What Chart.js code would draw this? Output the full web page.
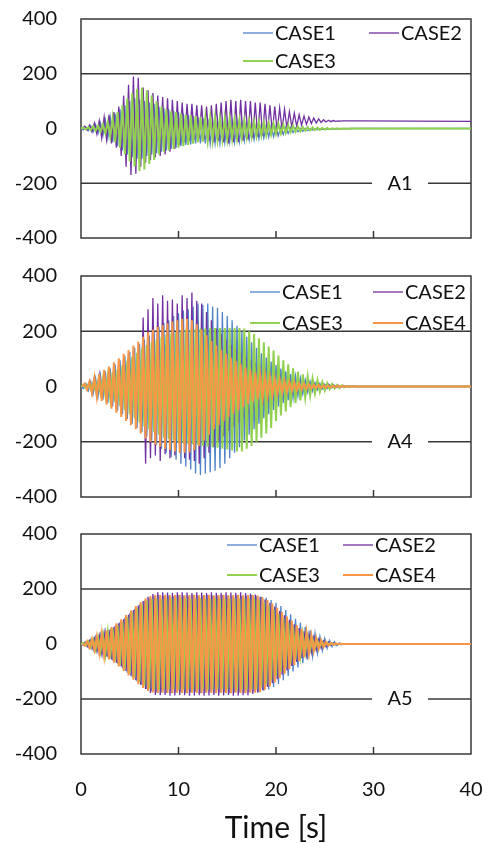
<!DOCTYPE html>
<html lang="en">

<head>
    <meta charset="UTF-8">
    <title>Response time histories A1 / A4 / A5</title>
    <style>
        body { margin: 0; background: #fff; }
        .panel { position: absolute; left: 0; width: 489px; }
    </style>
</head>

<body>
    <div class="panel" style="top:0;height:250px"><canvas id="chartA1"></canvas></div>
    <div class="panel" style="top:257px;height:252px"><canvas id="chartA4"></canvas></div>
    <div class="panel" style="top:515px;height:328px"><canvas id="chartA5"></canvas></div>

    <script src="https://cdn.jsdelivr.net/npm/chart.js@4.4.2/dist/chart.umd.min.js"></script>

    <script>
        // time grids [s], CASE2 / CASE4 are read half a step later
        const timeA = [
            0, 0.25, 0.5, 0.75, 1, 1.25, 1.5, 1.75, 2, 2.25, 2.5, 2.75, 3, 3.25, 3.5, 3.75,
            4, 4.25, 4.5, 4.75, 5, 5.25, 5.5, 5.75, 6, 6.25, 6.5, 6.75, 7, 7.25, 7.5, 7.75,
            8, 8.25, 8.5, 8.75, 9, 9.25, 9.5, 9.75, 10, 10.25, 10.5, 10.75, 11, 11.25, 11.5, 11.75,
            12, 12.25, 12.5, 12.75, 13, 13.25, 13.5, 13.75, 14, 14.25, 14.5, 14.75, 15, 15.25, 15.5, 15.75,
            16, 16.25, 16.5, 16.75, 17, 17.25, 17.5, 17.75, 18, 18.25, 18.5, 18.75, 19, 19.25, 19.5, 19.75,
            20, 20.25, 20.5, 20.75, 21, 21.25, 21.5, 21.75, 22, 22.25, 22.5, 22.75, 23, 23.25, 23.5, 23.75,
            24, 24.25, 24.5, 24.75, 25, 25.25, 25.5, 25.75, 26, 26.25, 26.5, 26.75, 27, 27.25, 27.5, 27.75,
            28, 40
        ];
        const timeB = [
            0.125, 0.375, 0.625, 0.875, 1.125, 1.375, 1.625, 1.875, 2.125, 2.375, 2.625, 2.875, 3.125, 3.375, 3.625, 3.875,
            4.125, 4.375, 4.625, 4.875, 5.125, 5.375, 5.625, 5.875, 6.125, 6.375, 6.625, 6.875, 7.125, 7.375, 7.625, 7.875,
            8.125, 8.375, 8.625, 8.875, 9.125, 9.375, 9.625, 9.875, 10.125, 10.375, 10.625, 10.875, 11.125, 11.375, 11.625, 11.875,
            12.125, 12.375, 12.625, 12.875, 13.125, 13.375, 13.625, 13.875, 14.125, 14.375, 14.625, 14.875, 15.125, 15.375, 15.625, 15.875,
            16.125, 16.375, 16.625, 16.875, 17.125, 17.375, 17.625, 17.875, 18.125, 18.375, 18.625, 18.875, 19.125, 19.375, 19.625, 19.875,
            20.125, 20.375, 20.625, 20.875, 21.125, 21.375, 21.625, 21.875, 22.125, 22.375, 22.625, 22.875, 23.125, 23.375, 23.625, 23.875,
            24.125, 24.375, 24.625, 24.875, 25.125, 25.375, 25.625, 25.875, 26.125, 26.375, 26.625, 26.875, 27.125, 27.375, 27.625, 27.875,
            28.125, 40
        ];
        const xTicks = [0, 10, 20, 30, 40];
        const yTicks = [-400, -200, 0, 200, 400];
        const caseNames = ['CASE1', 'CASE2', 'CASE3', 'CASE4'];
        const caseColors = ['#4f82c6', '#7030a0', '#92d050', '#f79646'];
        const caseWidths = [1.3, 1.3, 2, 2];

        // ---- A1 ----
        const a1Case1 = [
            0, -5, 6, -8, 10, -12, 14, -18, 20, -25, 30, -35, 40, -50, 55, -65,
            70, -80, 85, -95, 100, -105, 110, -110, 105, -110, 100, -100, 95, -95, 90, -90,
            80, -85, 75, -80, 70, -75, 65, -70, 60, -65, 55, -60, 50, -58, 45, -55,
            40, -55, 38, -55, 35, -55, 32, -55, 30, -55, 28, -52, 28, -50, 25, -50,
            24, -48, 22, -45, 20, -42, 18, -40, 16, -38, 14, -35, 12, -32, 10, -30,
            8, -26, 6, -22, 4, -18, 3, -15, 2, -12, 1, -10, 0, -8, 0, -6,
            -1, -5, -1, -4, -1, -3, -1, -2, -1, -2, 0, -1, 0, -1, 0, 0,
            0, 0
        ];
        const a1Case2 = [
            0, 8, -6, 12, -12, 20, -20, 28, -35, 42, -40, 50, -55, 60, -70, 80,
            -100, 120, -140, 160, -170, 190, -165, 185, -140, 150, -125, 140, -115, 130, -105, 120,
            -100, 115, -95, 110, -85, 105, -75, 100, -60, 95, -50, 90, -45, 90, -40, 85,
            -35, 85, -40, 80, -45, 85, -50, 90, -45, 95, -50, 100, -55, 105, -50, 100,
            -50, 105, -45, 100, -40, 100, -35, 95, -30, 95, -25, 90, -20, 85, -15, 80,
            -10, 75, -5, 70, 0, 62, 5, 56, 8, 50, 12, 45, 15, 42, 18, 38,
            20, 35, 22, 32, 24, 30, 25, 29, 26, 28, 27, 28, 28, 28, 28, 28,
            28, 26
        ];
        const a1Case3 = [
            0, 3, -3, 5, -6, 8, -8, 10, -12, 15, -18, 22, -30, 40, -50, 60,
            -70, 85, -95, 110, -120, 130, -140, 145, -155, 150, -150, 140, -130, 120, -115, 100,
            -95, 80, -85, 70, -80, 65, -75, 60, -70, 55, -65, 50, -60, 48, -55, 45,
            -50, 42, -48, 40, -45, 42, -45, 40, -42, 38, -40, 38, -40, 36, -38, 35,
            -36, 32, -34, 30, -32, 28, -30, 26, -28, 24, -26, 22, -24, 20, -22, 18,
            -20, 16, -18, 14, -16, 12, -14, 10, -12, 8, -10, 6, -8, 5, -7, 4,
            -6, 3, -5, 2, -4, 2, -3, 1, -2, 1, -2, 0, -1, 0, -1, 0,
            0, 0
        ];

        // ---- A4 ----
        const a4Case1 = [
            0, -8, 10, -15, 18, -25, 30, -35, 40, -48, 55, -60, 65, -72, 80, -88,
            95, -100, 110, -118, 125, -135, 140, -150, 155, -165, 170, -180, 185, -195, 200, -210,
            215, -225, 230, -240, 240, -255, 255, -265, 265, -280, 275, -290, 280, -300, 290, -315,
            300, -320, 295, -315, 300, -310, 290, -305, 285, -295, 270, -280, 255, -260, 240, -240,
            220, -220, 200, -195, 180, -175, 160, -155, 140, -135, 120, -115, 105, -100, 90, -85,
            78, -72, 65, -60, 55, -50, 45, -42, 38, -34, 30, -27, 24, -21, 19, -17,
            14, -12, 11, -9, 8, -7, 6, -5, 4, -4, 3, -2, 2, -1, 1, 0,
            0, 0
        ];
        const a4Case2 = [
            0, 10, -12, 20, -25, 30, -35, 40, -45, 55, -55, 62, -65, 75, -80, 88,
            -95, 100, -105, 110, -115, 120, -125, 130, -135, 250, -280, 280, -260, 320, -250, 300,
            -270, 330, -245, 310, -260, 315, -250, 300, -240, 330, -260, 320, -265, 340, -270, 310,
            -280, 300, -260, 270, -240, 240, -220, 210, -200, 190, -180, 170, -160, 150, -145, 135,
            -130, 120, -115, 105, -100, 95, -90, 85, -80, 75, -70, 65, -60, 55, -52, 48,
            -44, 40, -36, 32, -30, 27, -25, 22, -20, 18, -16, 14, -12, 14, -10, 12,
            -9, 10, -8, 9, -6, 8, -5, 6, -4, 5, -3, 4, -2, 3, -1, 2,
            0, 0
        ];
        const a4Case3 = [
            0, 5, -6, 8, -10, 14, -16, 20, -24, 28, -32, 38, -44, 50, -56, 62,
            -70, 78, -86, 94, -100, 108, -115, 122, -130, 138, -145, 150, -155, 160, -165, 170,
            -175, 180, -185, 188, -190, 192, -195, 196, -200, 200, -205, 205, -208, 205, -210, 208,
            -212, 210, -215, 210, -218, 212, -220, 212, -222, 212, -225, 212, -228, 212, -232, 212,
            -235, 212, -235, 210, -225, 200, -215, 190, -200, 175, -185, 160, -170, 145, -150, 130,
            -125, 112, -105, 95, -90, 80, -75, 66, -60, 54, -50, 44, -40, 36, -32, 28,
            -25, 22, -19, 16, -14, 12, -10, 9, -7, 6, -5, 4, -3, 2, -2, 1,
            0, 0
        ];
        const a4Case4 = [
            0, 10, -12, 18, -25, 32, -38, 45, -52, 60, -66, 72, -80, 88, -95, 102,
            -110, 118, -125, 132, -140, 148, -155, 162, -170, 180, -188, 196, -200, 205, -210, 215,
            -218, 222, -225, 228, -230, 235, -235, 240, -240, 245, -240, 245, -238, 240, -230, 225,
            -215, 205, -195, 185, -175, 165, -155, 148, -140, 132, -125, 118, -110, 104, -98, 92,
            -86, 80, -74, 68, -62, 58, -54, 50, -46, 43, -40, 37, -34, 32, -30, 28,
            -26, 24, -22, 20, -19, 17, -16, 15, -14, 12, -11, 10, -9, 8, -7, 6,
            -6, 5, -5, 4, -4, 3, -3, 2, -2, 2, -1, 1, -1, 1, 0, 0,
            0, 0
        ];

        // ---- A5 ----
        const a5Case1 = [
            0, -5, 8, -12, 15, -20, 24, -28, 32, -38, 42, -48, 54, -60, 66, -72,
            80, -88, 96, -104, 112, -120, 128, -136, 144, -150, 158, -164, 168, -172, 175, -176,
            178, -176, 175, -178, 176, -178, 174, -176, 178, -175, 176, -178, 175, -176, 178, -174,
            176, -178, 175, -176, 178, -174, 176, -178, 175, -177, 178, -175, 176, -178, 174, -176,
            178, -176, 175, -177, 176, -175, 178, -174, 175, -176, 172, -170, 168, -165, 160, -156,
            150, -145, 138, -132, 124, -116, 108, -100, 92, -85, 78, -70, 63, -56, 50, -44,
            38, -33, 28, -24, 20, -16, 13, -10, 8, -6, 4, -3, 2, -1, 1, 0,
            0, 0
        ];
        const a5Case2 = [
            0, 6, -9, 12, -16, 20, -25, 30, -34, 40, -45, 50, -56, 62, -68, 75,
            -82, 90, -98, 106, -115, 124, -132, 140, -148, 156, -164, 172, -178, 182, -185, 188,
            -186, 188, -185, 187, -188, 186, -187, 188, -185, 188, -186, 187, -188, 185, -187, 188,
            -186, 187, -188, 185, -187, 188, -185, 186, -188, 186, -187, 188, -185, 187, -188, 186,
            -187, 188, -186, 185, -186, 184, -182, 180, -176, 172, -168, 162, -156, 150, -143, 136,
            -128, 120, -112, 104, -96, 88, -80, 72, -65, 58, -51, 45, -39, 34, -29, 25,
            -21, 17, -14, 11, -9, 7, -5, 4, -3, 2, -2, 1, -1, 1, 0, 0,
            0, 0
        ];
        const a5Case3 = [
            0, 4, -6, 9, -12, 16, -20, 24, -28, 33, -38, 44, -50, 56, -62, 68,
            -75, 82, -90, 98, -106, 114, -122, 130, -138, 145, -152, 158, -162, 164, -166, 165,
            -166, 165, -164, 166, -165, 166, -164, 165, -166, 164, -165, 166, -164, 165, -166, 164,
            -165, 166, -164, 165, -166, 164, -165, 166, -164, 165, -166, 164, -165, 166, -164, 165,
            -166, 164, -165, 166, -165, 165, -164, 165, -164, 160, -156, 152, -146, 140, -133, 126,
            -118, 110, -102, 94, -86, 78, -70, 63, -56, 49, -43, 37, -32, 27, -22, 18,
            -15, 12, -9, 7, -5, 4, -3, 2, -2, 1, -1, 0, 0, 0, 0, 0,
            0, 0
        ];
        const a5Case4 = [
            0, -6, 10, -14, 18, -23, 28, -33, 38, -44, 50, -56, 62, -68, 75, -82,
            90, -98, 106, -114, 122, -130, 138, -146, 153, -160, 166, -171, 174, -176, 178, -178,
            178, -177, 179, -178, 177, -179, 178, -177, 179, -178, 177, -179, 178, -177, 179, -178,
            177, -179, 178, -177, 179, -178, 177, -179, 178, -177, 179, -178, 177, -179, 178, -177,
            179, -178, 177, -179, 178, -177, 178, -177, 176, -174, 170, -166, 160, -154, 147, -140,
            132, -124, 116, -108, 100, -92, 84, -76, 69, -62, 55, -48, 42, -36, 31, -26,
            22, -18, 14, -11, 8, -6, 4, -3, 2, -1, 1, 0, 0, 0, 0, 0,
            0, 0
        ];

        const FONT = 'Lato, "Open Sans", sans-serif';
        Chart.defaults.font.family = FONT;
        Chart.defaults.font.size = 20;
        Chart.defaults.color = '#111';

        var toPoints = function (times, values) {
            return times.map(function (t, i) { return { x: t, y: values[i] }; });
        };

        // frame, +-200 lines, inward ticks, legend block and panel name
        const panelDeco = {
            id: 'panelDeco',
            beforeDatasetsDraw(chart) {
                const { ctx, chartArea: a, scales } = chart;
                ctx.save();
                ctx.strokeStyle = '#383838';
                ctx.lineWidth = 1.5;
                [200, -200].forEach(function (v) {
                    const py = scales.y.getPixelForValue(v);
                    ctx.beginPath();
                    ctx.moveTo(a.left, py);
                    ctx.lineTo(a.right, py);
                    ctx.stroke();
                });
                ctx.strokeRect(a.left, a.top, a.width, a.height);
                xTicks.slice(1, -1).forEach(function (v) {
                    const px = scales.x.getPixelForValue(v);
                    ctx.beginPath();
                    ctx.moveTo(px, a.bottom);
                    ctx.lineTo(px, a.bottom - 7);
                    ctx.stroke();
                });
                ctx.restore();
            },
            afterDraw(chart, args, opts) {
                const { ctx, chartArea: a, scales } = chart;
                ctx.save();
                ctx.font = '20px ' + FONT;
                ctx.textBaseline = 'middle';
                ctx.textAlign = 'left';
                chart.data.datasets.forEach(function (ds, i) {
                    const x0 = opts.cols[i % 2];
                    const y0 = a.top + opts.rows[Math.floor(i / 2)];
                    ctx.strokeStyle = ds.borderColor;
                    ctx.lineWidth = ds.borderWidth;
                    ctx.beginPath();
                    ctx.moveTo(x0, y0);
                    ctx.lineTo(x0 + 30, y0);
                    ctx.stroke();
                    ctx.fillStyle = '#111';
                    ctx.fillText(ds.label, x0 + 32, y0 + 1);
                });
                // panel name sits on the -200 line
                const py = scales.y.getPixelForValue(-200);
                ctx.fillStyle = '#fff';
                ctx.fillRect(372, py - 11, 56, 22);
                ctx.fillStyle = '#111';
                ctx.textAlign = 'center';
                ctx.fillText(opts.name, 400, py);
                ctx.restore();
            }
        };

        var makePanel = function (id, name, times, series, legend, showX) {
            return new Chart(document.getElementById(id), {
                type: 'line',
                data: {
                    datasets: series.map(function (vals, i) {
                        return {
                            label: caseNames[i],
                            data: toPoints(times[i], vals),
                            borderColor: caseColors[i],
                            borderWidth: caseWidths[i],
                            pointRadius: 0,
                            order: 4 - i,
                        };
                    }),
                },
                options: {
                    animation: false,
                    responsive: true,
                    maintainAspectRatio: false,
                    layout: { padding: { top: 19, right: 18, bottom: legend.bottom, left: 0 } },
                    scales: {
                        x: {
                            type: 'linear',
                            min: 0,
                            max: 40,
                            display: showX,
                            afterBuildTicks: function (s) { s.ticks = xTicks.map(function (v) { return { value: v }; }); },
                            afterFit: function (s) { if (showX) s.height = 89; },
                            ticks: { padding: 0 },
                            grid: { display: false, drawTicks: true, tickLength: 24 },
                            border: { display: false },
                            title: {
                                display: showX,
                                text: 'Time [s]',
                                font: { size: 30, lineHeight: 1 },
                                padding: 0,
                            },
                        },
                        y: {
                            min: -400,
                            max: 400,
                            afterBuildTicks: function (s) { s.ticks = yTicks.map(function (v) { return { value: v }; }); },
                            afterFit: function (s) { s.width = 81; },
                            ticks: { padding: 0 },
                            grid: { display: false, drawTicks: true, tickLength: 24 },
                            border: { display: false },
                        },
                    },
                    plugins: {
                        legend: { display: false },
                        tooltip: { enabled: false },
                        panelDeco: { name: name, cols: legend.cols, rows: legend.rows },
                    },
                },
                plugins: [panelDeco],
            });
        };

        makePanel('chartA1', 'A1', [timeA, timeB, timeA],
            [a1Case1, a1Case2, a1Case3],
            { cols: [243, 369], rows: [14, 42], bottom: 12 }, false);
        makePanel('chartA4', 'A4', [timeA, timeB, timeA, timeB],
            [a4Case1, a4Case2, a4Case3, a4Case4],
            { cols: [250, 373], rows: [16, 47], bottom: 12 }, false);
        makePanel('chartA5', 'A5', [timeA, timeB, timeA, timeB],
            [a5Case1, a5Case2, a5Case3, a5Case4],
            { cols: [227, 343], rows: [11, 41], bottom: 0 }, true);
    </script>
</body>

</html>
